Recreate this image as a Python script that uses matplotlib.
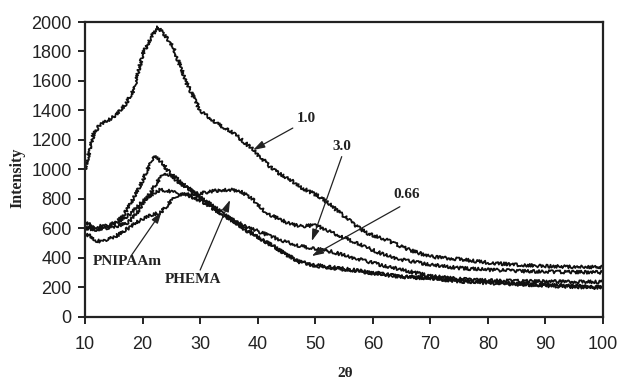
import matplotlib
matplotlib.use("Agg")
import matplotlib.pyplot as plt

# Diffraction scans (2-theta in degrees, intensity in counts)
x_10 = [10, 10.5, 11.5, 12.5, 14, 15.5, 17, 18.5, 20, 21.5, 22.7, 24, 25.3, 27.6, 30,
        33, 36, 39, 42.6, 46, 47.3, 50.8, 53, 56.5, 59, 62.4, 66.4, 70, 75, 80, 85,
        90, 95, 100]
y_10 = [1000, 1080, 1240, 1300, 1330, 1370, 1440, 1540, 1780, 1900, 1965, 1900, 1830,
        1590, 1400, 1310, 1240, 1140, 1000, 920, 882, 814, 746, 634, 565, 520, 452,
        407, 390, 366, 352, 342, 338, 335]

x_30 = [10, 12, 14, 15.5, 16.5, 18, 19.5, 21, 21.9, 22.5, 23.5, 24.2, 25.5, 27.6, 30,
        32, 34, 36, 38, 40, 42, 44, 47.3, 50, 53, 56, 59, 62, 65, 70, 75, 80, 90, 100]
y_30 = [600, 590, 610, 640, 680, 770, 880, 1010, 1090, 1075, 1040, 1000, 950, 885, 810,
        750, 690, 650, 610, 580, 550, 520, 480, 460, 440, 405, 375, 345, 319, 275,
        255, 245, 238, 235]

x_066 = [10, 12, 14, 16, 17.5, 19, 20, 21, 22, 23, 23.8, 25, 26, 27.6, 30, 32, 34, 36,
         38, 40, 42.7, 45, 47.3, 50, 53, 56, 59, 64.7, 70, 75, 80, 90, 100]
y_066 = [640, 600, 600, 620, 640, 700, 760, 820, 880, 940, 975, 950, 920, 880, 810, 760,
         700, 640, 585, 540, 480, 420, 375, 350, 335, 320, 305, 273, 265, 245, 232,
         215, 200]

x_pnipaam = [10, 11, 12, 13, 14, 15, 16, 17, 18, 19, 20, 21, 22, 23, 24, 25, 26, 27,
             28, 30, 32, 34, 36, 38, 40, 42.7, 45, 47.3, 50, 53, 56, 59, 64.7, 70, 75,
             80, 90, 100]
y_pnipaam = [560, 545, 515, 510, 525, 540, 560, 590, 610, 640, 660, 680, 695, 705, 740,
             790, 820, 830, 820, 790, 740, 690, 640, 590, 540, 477, 420, 370, 345, 330,
             315, 300, 270, 260, 240, 228, 210, 195]

x_phema = [10, 12, 14, 16, 18, 20, 22, 23, 25, 27.6, 30, 32, 34, 35.5, 37, 39, 41,
           42.7, 45, 47.3, 50, 52, 53, 56, 59, 62, 65, 70, 75, 80, 88, 100]
y_phema = [600, 610, 620, 650, 700, 780, 840, 860, 850, 827, 838, 850, 861, 860, 850,
           800, 720, 680, 640, 613, 620, 590, 570, 520, 468, 420, 386, 353, 330, 318,
           306, 300]

series = [(x_10, y_10), (x_30, y_30), (x_066, y_066),
          (x_pnipaam, y_pnipaam), (x_phema, y_phema)]

x_ticks = [10, 20, 30, 40, 50, 60, 70, 80, 90, 100]
y_ticks = [0, 200, 400, 600, 800, 1000, 1200, 1400, 1600, 1800, 2000]

# Curve labels: text, text position, arrow start, arrow tip (data units)
callouts = [
    ("1.0", (48.4, 1348), (46.1, 1280), (39.2, 1131)),
    ("3.0", (54.6, 1158), (54.6, 1086), (49.4, 513)),
    ("0.66", (65.9, 832), (64.7, 746), (49.4, 411)),
    ("PNIPAAm", (17.3, 371), (18.1, 418), (23.3, 712)),
    ("PHEMA", (28.8, 255), (30.0, 316), (35.2, 792)),
]

fig = plt.figure(figsize=(6.21, 3.82), dpi=100)
ax = fig.add_axes([0.1369, 0.1712, 0.8342, 0.7712])

for xs, ys in series:
    line, = ax.plot(xs, ys, color="#111111", lw=1.3)
    line.set_sketch_params(scale=1.6, length=1.2, randomness=3.0)

ax.set_xlim(10, 100)
ax.set_ylim(0, 2000)
ax.set_xticks(x_ticks)
ax.set_yticks(y_ticks)

for s in ax.spines.values():
    s.set_linewidth(1.6)
    s.set_color("#222222")

ax.tick_params(axis="both", direction="out", length=5, width=1.4, color="#222222",
               labelsize=13, labelcolor="#222222")
ax.tick_params(axis="x", pad=9)
ax.tick_params(axis="y", pad=4.5)
for lab in ax.get_xticklabels() + ax.get_yticklabels():
    lab.set_family("Liberation Sans")

serif_bold = dict(family="Liberation Serif", weight="bold", color="#222222")

ax.set_ylabel("Intensity", fontsize=11.5, **serif_bold)
ax.yaxis.set_label_coords(-0.114, 0.47)
ax.set_xlabel("2θ", fontsize=11, **serif_bold)
ax.xaxis.set_label_coords(0.502, -0.172)

for text, tpos, tail, tip in callouts:
    ax.text(tpos[0], tpos[1], text, ha="center", va="center", fontsize=11,
            **serif_bold)
    ax.annotate("", xy=tip, xytext=tail,
                arrowprops=dict(arrowstyle="-|>,head_length=0.7,head_width=0.22",
                                color="#222222", lw=0.9, shrinkA=0, shrinkB=0))

fig.savefig("out.png", dpi=100)
